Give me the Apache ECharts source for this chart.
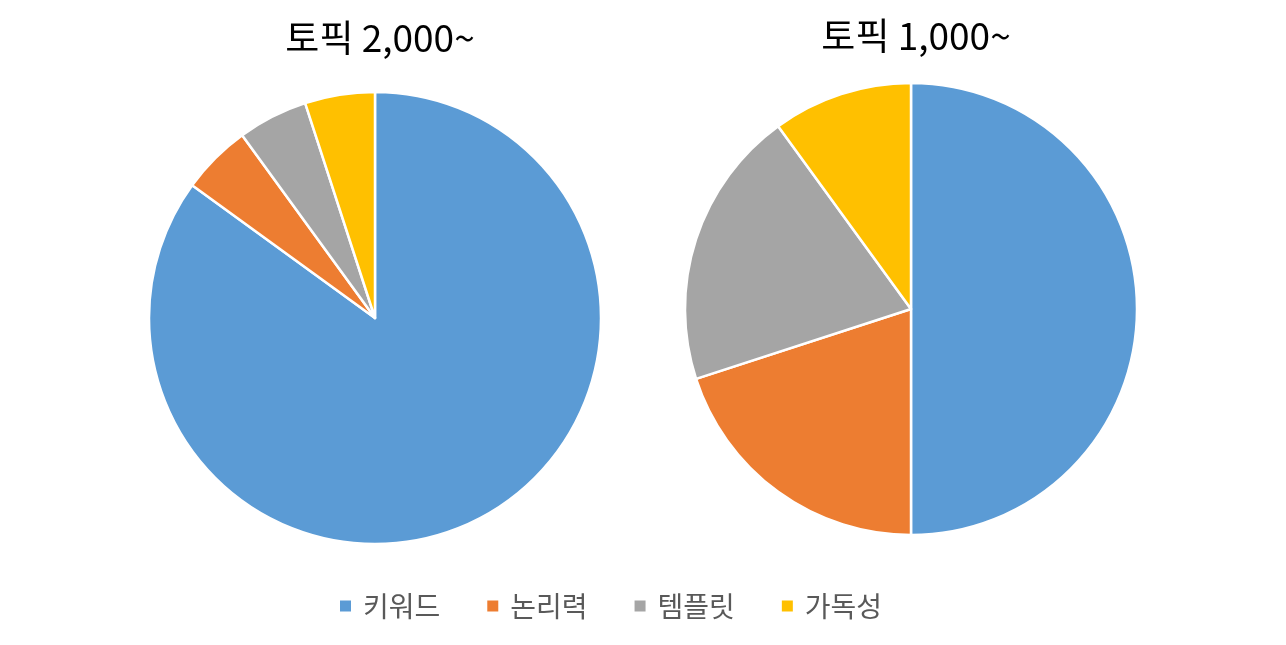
<!DOCTYPE html>
<html><head><meta charset="utf-8">
<script src="https://cdn.jsdelivr.net/npm/echarts@6/dist/echarts.min.js"></script>
<style>html,body{margin:0;padding:0;background:#fff}#c{width:1286px;height:645px}</style>
</head><body><div id="c"></div>
<script>
const categories = ['키워드', '논리력', '템플릿', '가독성'];
const titles = ['토픽 2,000~', '토픽 1,000~'];
const values2000 = [85, 5, 5, 5];
const values1000 = [50, 20, 20, 10];
const colors = ['#5B9BD5', '#ED7D31', '#A5A5A5', '#FFC000'];
const font = '"Noto Sans CJK KR", "Noto Sans", sans-serif';
const chart = echarts.init(document.getElementById('c'));
function mk(vals) { return categories.map((n, i) => ({ name: n, value: vals[i] })); }
chart.setOption({
  color: colors,
  animation: false,
  title: [
    { text: titles[0], left: 375, top: 14, textAlign: 'center', textStyle: { fontFamily: font, fontSize: 37, fontWeight: 'normal', color: '#000' } },
    { text: titles[1], left: 911, top: 12, textAlign: 'center', textStyle: { fontFamily: font, fontSize: 37, fontWeight: 'normal', color: '#000' } }
  ],
  legend: {
    data: categories, bottom: 20, left: 333, icon: 'rect', itemWidth: 13, itemHeight: 13, itemGap: 45,
    textStyle: { fontFamily: font, fontSize: 28, color: '#595959', padding: [0, 0, 0, 6] }
  },
  series: [
    { type: 'pie', center: [375, 318], radius: 226, startAngle: 90, clockwise: true, label: { show: false }, labelLine: { show: false },
      itemStyle: { borderColor: '#fff', borderWidth: 2.5 }, emphasis: { disabled: true }, data: mk(values2000) },
    { type: 'pie', center: [911, 309], radius: 226, startAngle: 90, clockwise: true, label: { show: false }, labelLine: { show: false },
      itemStyle: { borderColor: '#fff', borderWidth: 2.5 }, emphasis: { disabled: true }, data: mk(values1000) }
  ]
});
</script></body></html>
